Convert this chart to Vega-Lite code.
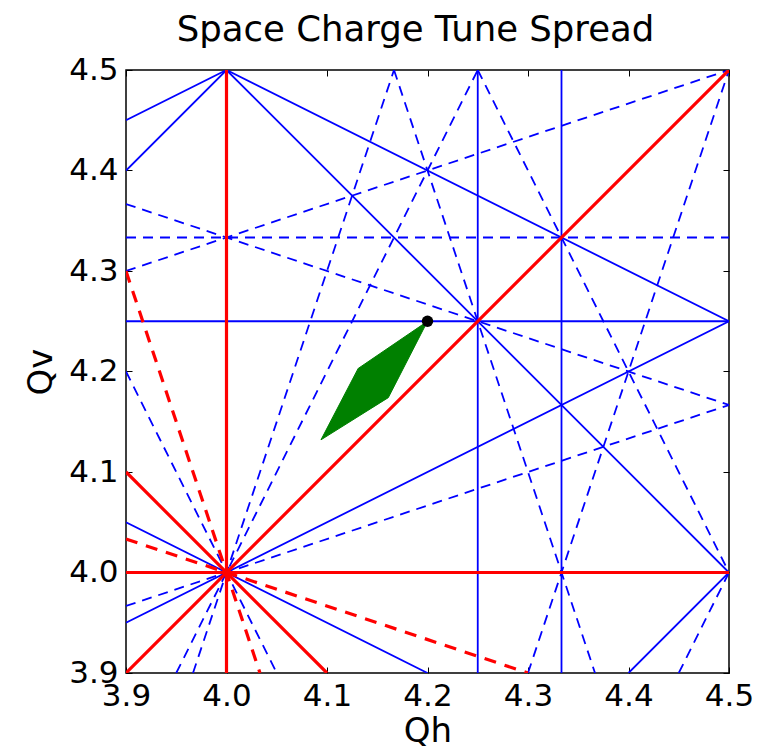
{
  "$schema": "https://vega.github.io/schema/vega-lite/v6.json",
  "width": 603,
  "height": 603,
  "autosize": {"type": "none"},
  "padding": {"left": 126, "top": 70, "right": 44, "bottom": 77},
  "background": "white",
  "title": {"text": "Space Charge Tune Spread", "fontSize": 35.5, "font": "DejaVu Sans", "fontWeight": "normal", "color": "black", "offset": 6, "dx": -12},
  "config": {
    "view": {"stroke": "black", "strokeWidth": 1.5},
    "axis": {"grid": false, "domain": false}
  },
  "datasets": {
    "lines": [
      {"id": 1, "k": "bs", "qh": 4.25, "qv": 3.9}, {"id": 1, "k": "bs", "qh": 4.25, "qv": 4.5},
      {"id": 2, "k": "bs", "qh": 3.9, "qv": 4.25}, {"id": 2, "k": "bs", "qh": 4.5, "qv": 4.25},
      {"id": 3, "k": "bs", "qh": 4.33333, "qv": 3.9}, {"id": 3, "k": "bs", "qh": 4.33333, "qv": 4.5},
      {"id": 4, "k": "bs", "qh": 3.9, "qv": 4.05}, {"id": 4, "k": "bs", "qh": 4.2, "qv": 3.9},
      {"id": 5, "k": "bs", "qh": 4.0, "qv": 4.5}, {"id": 5, "k": "bs", "qh": 4.5, "qv": 4.25},
      {"id": 6, "k": "bs", "qh": 3.9, "qv": 3.95}, {"id": 6, "k": "bs", "qh": 4.5, "qv": 4.25},
      {"id": 7, "k": "bs", "qh": 3.9, "qv": 4.45}, {"id": 7, "k": "bs", "qh": 4.0, "qv": 4.5},
      {"id": 8, "k": "bs", "qh": 4.0, "qv": 4.5}, {"id": 8, "k": "bs", "qh": 4.5, "qv": 4.0},
      {"id": 9, "k": "bs", "qh": 4.4, "qv": 3.9}, {"id": 9, "k": "bs", "qh": 4.5, "qv": 4.0},
      {"id": 10, "k": "bs", "qh": 3.9, "qv": 4.4}, {"id": 10, "k": "bs", "qh": 4.0, "qv": 4.5},
      {"id": 11, "k": "bd", "qh": 3.9, "qv": 4.33333}, {"id": 11, "k": "bd", "qh": 4.5, "qv": 4.33333},
      {"id": 12, "k": "bd", "qh": 3.9, "qv": 4.2}, {"id": 12, "k": "bd", "qh": 4.05, "qv": 3.9},
      {"id": 13, "k": "bd", "qh": 4.25, "qv": 4.5}, {"id": 13, "k": "bd", "qh": 4.5, "qv": 4.0},
      {"id": 14, "k": "bd", "qh": 3.95, "qv": 3.9}, {"id": 14, "k": "bd", "qh": 4.25, "qv": 4.5},
      {"id": 15, "k": "bd", "qh": 4.45, "qv": 3.9}, {"id": 15, "k": "bd", "qh": 4.5, "qv": 4.0},
      {"id": 16, "k": "bd", "qh": 4.16667, "qv": 4.5}, {"id": 16, "k": "bd", "qh": 4.36667, "qv": 3.9},
      {"id": 17, "k": "bd", "qh": 3.9, "qv": 4.36667}, {"id": 17, "k": "bd", "qh": 4.5, "qv": 4.16667},
      {"id": 18, "k": "bd", "qh": 3.96667, "qv": 3.9}, {"id": 18, "k": "bd", "qh": 4.16667, "qv": 4.5},
      {"id": 19, "k": "bd", "qh": 4.3, "qv": 3.9}, {"id": 19, "k": "bd", "qh": 4.5, "qv": 4.5},
      {"id": 20, "k": "bd", "qh": 3.9, "qv": 3.96667}, {"id": 20, "k": "bd", "qh": 4.5, "qv": 4.16667},
      {"id": 21, "k": "bd", "qh": 3.9, "qv": 4.3}, {"id": 21, "k": "bd", "qh": 4.5, "qv": 4.5},
      {"id": 22, "k": "rs", "qh": 4.0, "qv": 3.9}, {"id": 22, "k": "rs", "qh": 4.0, "qv": 4.5},
      {"id": 23, "k": "rs", "qh": 3.9, "qv": 4.0}, {"id": 23, "k": "rs", "qh": 4.5, "qv": 4.0},
      {"id": 24, "k": "rs", "qh": 3.9, "qv": 3.9}, {"id": 24, "k": "rs", "qh": 4.5, "qv": 4.5},
      {"id": 25, "k": "rs", "qh": 3.9, "qv": 4.1}, {"id": 25, "k": "rs", "qh": 4.1, "qv": 3.9},
      {"id": 26, "k": "rd", "qh": 3.9, "qv": 4.3}, {"id": 26, "k": "rd", "qh": 4.03333, "qv": 3.9},
      {"id": 27, "k": "rd", "qh": 3.9, "qv": 4.03333}, {"id": 27, "k": "rd", "qh": 4.3, "qv": 3.9}
    ],
    "spread": [
      {"ord": 1, "qh": 4.2, "qv": 4.25},
      {"ord": 2, "qh": 4.131, "qv": 4.203},
      {"ord": 3, "qh": 4.094, "qv": 4.132},
      {"ord": 4, "qh": 4.161, "qv": 4.174},
      {"ord": 5, "qh": 4.2, "qv": 4.25}
    ],
    "tune": [{"qh": 4.2, "qv": 4.25}]
  },
  "resolve": {"axis": {"x": "independent", "y": "independent"}},
  "layer": [
    {
      "data": {"name": "lines"},
      "transform": [{"filter": "datum.k == 'bs'"}],
      "mark": {"type": "line", "stroke": "#0000ff", "strokeWidth": 1.8, "clip": true},
      "encoding": {
        "x": {"field": "qh", "type": "quantitative", "scale": {"domain": [3.9, 4.5], "nice": false, "zero": false},
          "axis": {"orient": "bottom", "values": [3.9, 4.0, 4.1, 4.2, 4.3, 4.4, 4.5], "format": ".1f", "title": "Qh",
            "titleFont": "DejaVu Sans", "titleFontSize": 34, "titleFontWeight": "normal", "titleColor": "black", "titlePadding": 3,
            "labelFont": "DejaVu Sans", "labelFontSize": 31, "labelColor": "black", "labelPadding": 14, "labelFlush": false, "labelOverlap": false, "labelBound": false,
            "tickSize": -6, "tickColor": "black", "tickWidth": 1}},
        "y": {"field": "qv", "type": "quantitative", "scale": {"domain": [3.9, 4.5], "nice": false, "zero": false},
          "axis": {"orient": "left", "values": [3.9, 4.0, 4.1, 4.2, 4.3, 4.4, 4.5], "format": ".1f", "title": "Qv",
            "titleFont": "DejaVu Sans", "titleFontSize": 34, "titleFontWeight": "normal", "titleColor": "black", "titlePadding": 10,
            "labelFont": "DejaVu Sans", "labelFontSize": 31, "labelColor": "black", "labelPadding": 14, "labelFlush": false, "labelOverlap": false, "labelBound": false,
            "tickSize": -6, "tickColor": "black", "tickWidth": 1}},
        "detail": {"field": "id", "type": "nominal"}
      }
    },
    {
      "data": {"name": "lines"},
      "transform": [{"filter": "datum.k == 'bd'"}],
      "mark": {"type": "line", "stroke": "#0000ff", "strokeWidth": 1.8, "strokeDash": [10, 7], "clip": true},
      "encoding": {
        "x": {"field": "qh", "type": "quantitative", "scale": {"domain": [3.9, 4.5], "nice": false, "zero": false},
          "axis": {"orient": "top", "values": [3.9, 4.0, 4.1, 4.2, 4.3, 4.4, 4.5], "labels": false, "title": null, "tickSize": -6, "tickColor": "black", "tickWidth": 1}},
        "y": {"field": "qv", "type": "quantitative", "scale": {"domain": [3.9, 4.5], "nice": false, "zero": false},
          "axis": {"orient": "right", "values": [3.9, 4.0, 4.1, 4.2, 4.3, 4.4, 4.5], "labels": false, "title": null, "tickSize": -6, "tickColor": "black", "tickWidth": 1}},
        "detail": {"field": "id", "type": "nominal"}
      }
    },
    {
      "data": {"name": "lines"},
      "transform": [{"filter": "datum.k == 'rs'"}],
      "mark": {"type": "line", "stroke": "#ff0000", "strokeWidth": 3.2, "clip": true},
      "encoding": {
        "x": {"field": "qh", "type": "quantitative", "axis": null},
        "y": {"field": "qv", "type": "quantitative", "axis": null},
        "detail": {"field": "id", "type": "nominal"}
      }
    },
    {
      "data": {"name": "lines"},
      "transform": [{"filter": "datum.k == 'rd'"}],
      "mark": {"type": "line", "stroke": "#ff0000", "strokeWidth": 3.2, "strokeDash": [12, 9], "clip": true},
      "encoding": {
        "x": {"field": "qh", "type": "quantitative", "axis": null},
        "y": {"field": "qv", "type": "quantitative", "axis": null},
        "detail": {"field": "id", "type": "nominal"}
      }
    },
    {
      "data": {"name": "spread"},
      "mark": {"type": "line", "fill": "#008000", "stroke": "#008000", "strokeWidth": 1},
      "encoding": {
        "x": {"field": "qh", "type": "quantitative", "axis": null},
        "y": {"field": "qv", "type": "quantitative", "axis": null},
        "order": {"field": "ord", "type": "quantitative"}
      }
    },
    {
      "data": {"name": "tune"},
      "mark": {"type": "point", "filled": true, "color": "black", "size": 130, "opacity": 1},
      "encoding": {
        "x": {"field": "qh", "type": "quantitative", "axis": null},
        "y": {"field": "qv", "type": "quantitative", "axis": null}
      }
    }
  ]
}
